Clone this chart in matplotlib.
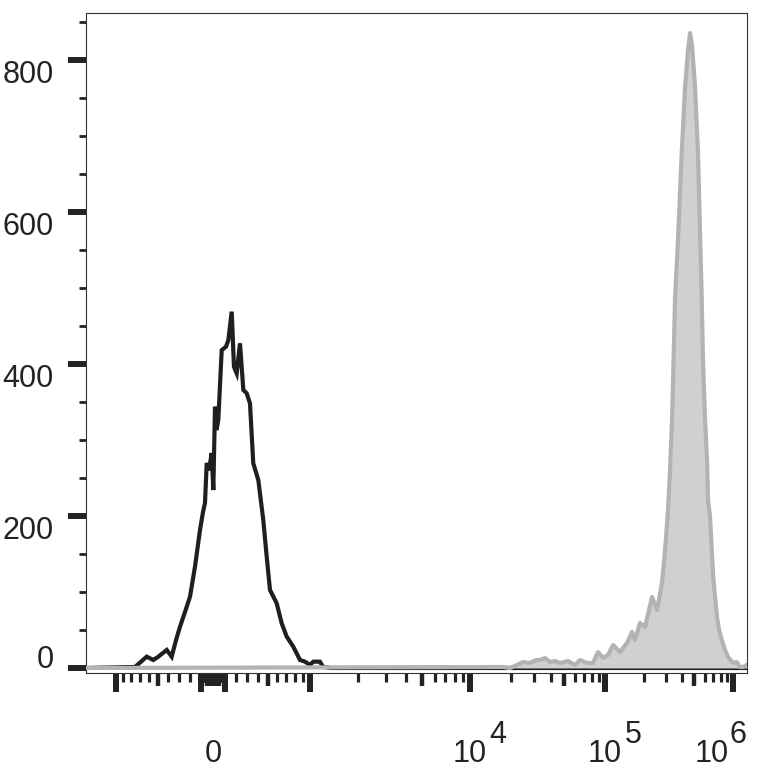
import numpy as np
import matplotlib
matplotlib.use("Agg")
import matplotlib.pyplot as plt
from matplotlib.ticker import FixedLocator, FixedFormatter
from matplotlib.transforms import ScaledTranslation

# ---------------- data (display channel 0-1024, event count) ----------------
black_channel = [0, 76.4, 94.5, 104.7, 112, 125.5, 133.2, 140, 146.1, 153.8, 161.6,
                 169.3, 177.1, 181.7, 184.8, 187.5, 191, 195.2, 197.7, 200.3, 202.6,
                 205.4, 210.7, 217.3, 220.9, 226.2, 229.7, 233.9, 239, 244.2, 249.4,
                 254.5, 259.6, 267.4, 275.1, 280.4, 285.5, 295.9, 303.6, 311.4, 321.6,
                 332, 339.7, 347.5, 352.6, 362.8, 368, 380, 1024]
black_count = [0, 1.3, 14.9, 10.5, 14.5, 23.7, 14.9, 36.8, 54.3, 73.6, 93.8,
               133.2, 181.5, 205, 217, 269.6, 260, 282.7, 234, 343.6, 313,
               326, 418, 422.5, 431, 468.6, 396, 387.5, 427, 365.6, 361.3,
               348, 269.2, 247.2, 194.6, 146.4, 102.6, 85, 58.8, 41.2, 28,
               10.5, 8.3, 3.9, 8.3, 8.3, 1.3, 0, 0]

gray_channel = [0, 646.5, 657.3, 668.2, 677.5, 688.3, 697.6, 703.8, 711.6, 719.3,
                727, 734.8, 747.2, 758, 765.8, 776.6, 785.9, 793.6, 801.4, 809.2,
                816.9, 827.7, 838.6, 846.3, 851, 858.7, 866.5, 877.3, 885.1, 892.8,
                897.5, 902.1, 905.2, 908.3, 910.6, 913, 917.6, 923.3, 928.5, 933.1,
                936.2, 939.3, 944, 948.6, 951.7, 954.3, 956.4, 959.5, 962.6, 964.1,
                967.2, 969.9, 971.9, 975, 978, 981.2, 986.9, 990.4, 995, 1002.8,
                1008.5, 1013.6, 1018.3, 1024]
gray_count = [0, 1.3, 0, 3.9, 7.9, 6.6, 10.5, 10.5, 13.2, 7.9,
              9.2, 6.6, 9.2, 3.9, 10.5, 6.6, 6.6, 21, 13.2, 17.1,
              30.2, 21, 32.9, 47.3, 36.8, 59.2, 53.9, 93.4, 76.3, 111.8,
              155.2, 207.8, 260.4, 326, 401, 488, 563, 677, 764, 812.7,
              835, 819, 764, 677, 572, 488, 401, 326, 273.5, 221,
              198.6, 155.2, 122.3, 93.4, 67, 50, 32.9, 23.7, 14.5, 6.6,
              7.9, 1.3, 1.3, 3.9]

y_major = [0, 200, 400, 600, 800]
y_major_labels = ["0", "200", "400", "600", "800"]
y_minor = [50, 100, 150, 250, 300, 350, 450, 500, 550, 650, 700, 750, 850]

# x tick values (fluorescence intensity)
x_long_values = [-1000, -100, 100, 1000, 1e4, 1e5, 1e6]
x_mid_values = [-500, -50, -40, -30, -20, -10, 0, 10, 20, 30, 40, 50, 500, 5e3, 5e4, 5e5]
x_short_values = ([-900, -800, -700, -600, -400, -300, -200, -90, -80, -70, -60,
                   60, 70, 80, 90, 200, 300, 400, 600, 700, 800, 900] +
                  [m * 10 ** d for d in (3, 4, 5) for m in (2, 3, 4, 6, 7, 8, 9)])
x_label_values = [0, 1e4, 1e5, 1e6]
x_label_base = ["0", "10", "10", "10"]
x_label_exp = ["", "4", "5", "6"]


# biexponential display transform: intensity -> display channel
def display_channel(v):
    v = np.asarray(v, dtype=float)
    zero = 197.2
    lin = zero + 150.3 * np.arcsinh(v / 800.0) / np.arcsinh(1.25)
    a = np.abs(v)
    dec = np.interp(np.log10(np.maximum(a, 1000.0)), [3, 4, 5, 6],
                    [150.3, 398.2, 607.3, 805.6])
    out = zero + np.sign(v) * dec
    return np.where(a <= 1000, lin, out)


plt.rcParams["font.family"] = ["Liberation Sans", "DejaVu Sans"]
ink = "#232323"

fig = plt.figure(figsize=(7.64, 7.73), dpi=100)
W, H = 764.0, 773.0
left, right, top, bottom = 85.7, 746.7, 13.3, 673.3
ax = fig.add_axes([left / W, 1 - bottom / H, (right - left) / W, (bottom - top) / H])

ax.plot(black_channel, black_count, color="#1f1f1f", lw=3.0, zorder=2,
        solid_joinstyle="miter")
ax.fill_between(gray_channel, gray_count, 0, color="#d0d0d0", lw=0, zorder=3)
ax.plot(gray_channel, gray_count, color="#b3b3b3", lw=3.0, zorder=4)

ax.set_xlim(0, 1024)
ax.set_ylim(-7, 861)

for s in ax.spines.values():
    s.set_linewidth(0.8)
    s.set_color("#333333")

# ---- y axis ----
ax.yaxis.set_major_locator(FixedLocator(y_major))
ax.yaxis.set_major_formatter(FixedFormatter(y_major_labels))
ax.yaxis.set_minor_locator(FixedLocator(y_minor))
ax.tick_params(axis="y", which="major", direction="out", length=13, width=4.3,
               color=ink, labelsize=22, labelcolor=ink, pad=10)
ax.tick_params(axis="y", which="minor", direction="out", length=5.4, width=2.0,
               color=ink)

# ---- x axis ----
x_major_values = x_long_values + x_mid_values
x_major_pos = display_channel(x_major_values)
x_major_text = []
for v in x_major_values:
    if v in x_label_values:
        x_major_text.append(x_label_base[x_label_values.index(v)])
    else:
        x_major_text.append("")
ax.xaxis.set_major_locator(FixedLocator(list(x_major_pos)))
ax.xaxis.set_major_formatter(FixedFormatter(x_major_text))
ax.xaxis.set_minor_locator(FixedLocator(list(display_channel(x_short_values))))
ax.tick_params(axis="x", which="major", direction="out", length=13.7, width=4.3,
               color=ink, labelsize=22, labelcolor=ink, pad=50.2)
ax.tick_params(axis="x", which="minor", direction="out", length=6.8, width=2.3,
               color=ink)

fig.canvas.draw()

# per-tick adjustments
for t, v in zip(ax.xaxis.get_major_ticks(), x_major_values):
    if v in x_mid_values:
        t.tick1line.set_markersize(9.6)
        t.tick1line.set_markeredgewidth(3.2)
    t.label1.set_verticalalignment("baseline")
    if v == 1e6:
        t.label1.set_transform(t.label1.get_transform() +
                               ScaledTranslation(-21 / 100, 0, fig.dpi_scale_trans))

for t, v in zip(ax.yaxis.get_major_ticks(), y_major):
    t.label1.set_verticalalignment("baseline" if v == 0 else "top")

# exponents of the decade labels
for v, e in zip(x_label_values, x_label_exp):
    if not e:
        continue
    dx = -2.2 if v == 1e6 else 14.0
    ax.annotate(e, xy=(float(display_channel(v)), 0), xycoords=("data", "axes fraction"),
                xytext=(dx, -50.2), textcoords="offset points",
                ha="left", va="baseline", fontsize=22, color=ink,
                annotation_clip=False)

fig.savefig("out.png", dpi=100)
